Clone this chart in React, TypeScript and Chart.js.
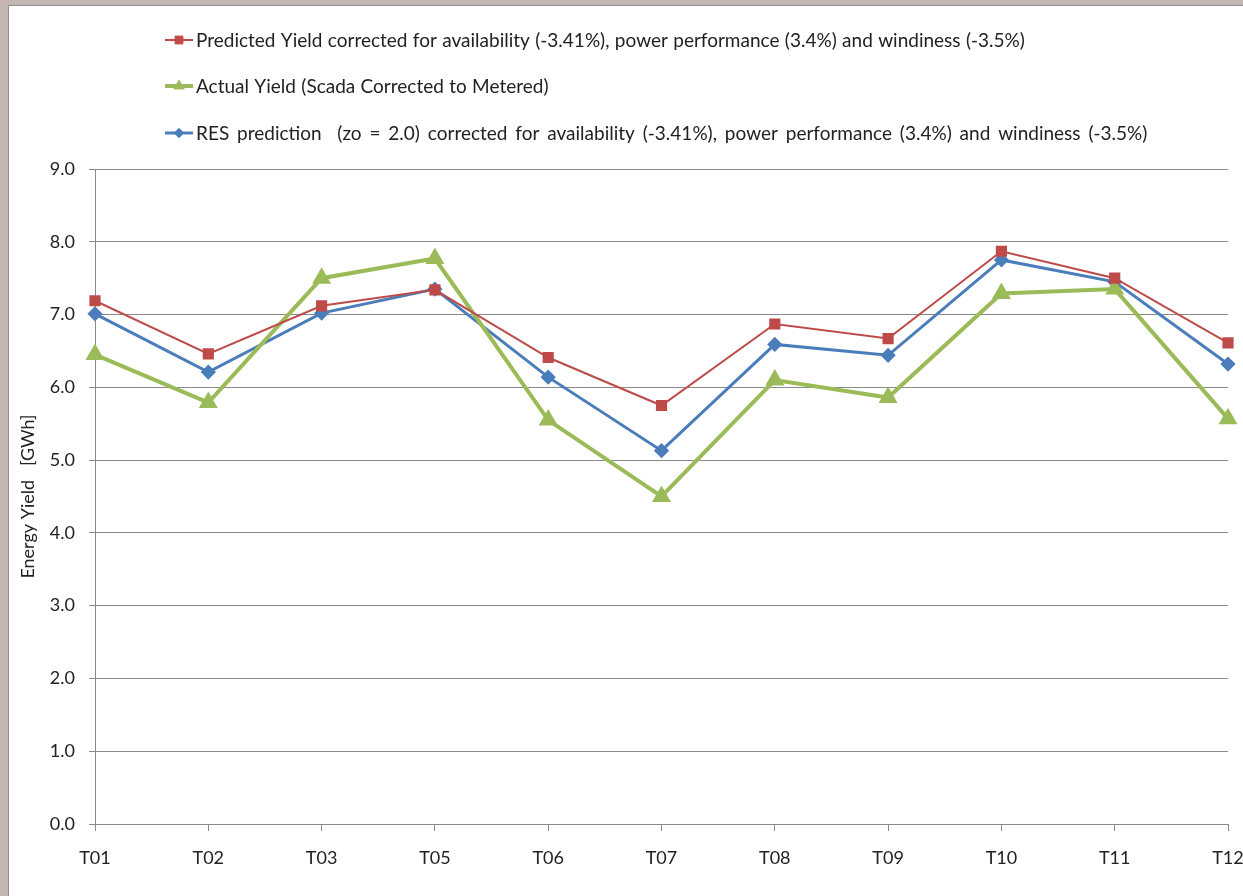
import React, { useEffect, useRef } from "react";
import { Chart, registerables } from "chart.js";
import { drawPoint } from "chart.js/helpers";

Chart.register(...registerables);

const categories = ["T01", "T02", "T03", "T05", "T06", "T07", "T08", "T09", "T10", "T11", "T12"];
const predictedYield = [7.19, 6.46, 7.12, 7.34, 6.41, 5.75, 6.87, 6.67, 7.87, 7.50, 6.61];
const actualYield = [6.45, 5.79, 7.50, 7.77, 5.55, 4.50, 6.10, 5.86, 7.29, 7.35, 5.57];
const resPrediction = [7.01, 6.21, 7.02, 7.35, 6.14, 5.13, 6.59, 6.44, 7.75, 7.45, 6.32];
const yTicks = [0, 1, 2, 3, 4, 5, 6, 7, 8, 9];

const labels = [
  "Predicted Yield corrected for availability (-3.41%), power performance (3.4%) and windiness (-3.5%)",
  "Actual Yield (Scada Corrected to Metered)",
  "RES prediction  (zo = 2.0) corrected for availability (-3.41%), power performance (3.4%) and windiness (-3.5%)",
];

const FONT = "Lato, 'Open Sans', sans-serif";

const legendPlugin = {
  id: "customLegend",
  afterDraw(chart: any) {
    const ctx = chart.ctx;
    const rows = [40, 86, 133];
    const spacing = ["0.5px", "0.5px", "3px"];
    ctx.save();
    chart.data.datasets.forEach((ds: any, i: number) => {
      const y = rows[i];
      ctx.strokeStyle = ds.borderColor;
      ctx.lineWidth = ds.borderWidth;
      ctx.beginPath();
      ctx.moveTo(165, y);
      ctx.lineTo(193, y);
      ctx.stroke();
      ctx.fillStyle = ds.pointBackgroundColor;
      ctx.strokeStyle = ds.pointBorderColor;
      ctx.lineWidth = 1;
      drawPoint(ctx, { pointStyle: ds.pointStyle, radius: ds.pointRadius * 0.85, rotation: 0, borderWidth: 1 }, 179, y);
      ctx.fillStyle = "#222";
      ctx.font = `19px ${FONT}`;
      (ctx as any).wordSpacing = spacing[i];
      ctx.textBaseline = "middle";
      ctx.textAlign = "left";
      ctx.fillText(ds.label, 196, y + 1);
    });
    ctx.restore();
  },
};

export default function App() {
  const ref = useRef<HTMLCanvasElement>(null);
  useEffect(() => {
    if (!ref.current) return;
    const chart = new Chart(ref.current, {
      type: "line",
      data: {
        labels: categories,
        datasets: [
          {
            label: labels[0],
            data: predictedYield,
            borderColor: "#BE4B48",
            backgroundColor: "#BE4B48",
            pointBackgroundColor: "#BE4B48",
            pointBorderColor: "#BE4B48",
            borderWidth: 2,
            pointStyle: "rect",
            pointRadius: 6.5,
            tension: 0,
          },
          {
            label: labels[1],
            data: actualYield,
            borderColor: "#9BBB59",
            backgroundColor: "#9BBB59",
            pointBackgroundColor: "#9BBB59",
            pointBorderColor: "#9BBB59",
            borderWidth: 4,
            pointStyle: "triangle",
            pointRadius: 7,
            tension: 0,
          },
          {
            label: labels[2],
            data: resPrediction,
            borderColor: "#4A7EBB",
            backgroundColor: "#4A7EBB",
            pointBackgroundColor: "#4A7EBB",
            pointBorderColor: "#4A7EBB",
            borderWidth: 3,
            pointStyle: "rectRot",
            pointRadius: 5.5,
            tension: 0,
          },
        ],
      },
      options: {
        responsive: false,
        animation: false,
        devicePixelRatio: 1,
        layout: { padding: { top: 169, right: 15, left: 0, bottom: 0 } },
        plugins: {
          legend: { display: false },
          tooltip: { enabled: false },
        },
        scales: {
          x: {
            offset: false,
            afterFit(scale: any) {
              scale.height = 72;
              scale.paddingLeft = 0;
              scale.paddingRight = 0;
            },
            grid: {
              display: true,
              drawOnChartArea: false,
              drawTicks: true,
              tickLength: 7,
              color: "#8a8a8a",
            },
            border: { display: true, color: "#8a8a8a", width: 1 },
            ticks: {
              color: "#222",
              font: { family: FONT, size: 18 },
              padding: 16,
              maxRotation: 0,
            },
          },
          y: {
            min: 0,
            max: 9,
            afterBuildTicks(scale: any) {
              scale.ticks = yTicks.map((v) => ({ value: v }));
            },
            afterFit(scale: any) {
              scale.width = 95;
              scale.paddingTop = 0;
              scale.paddingBottom = 0;
            },
            grid: {
              display: true,
              drawOnChartArea: true,
              drawTicks: true,
              tickLength: 6,
              color: "#8a8a8a",
            },
            border: { display: true, color: "#8a8a8a", width: 1 },
            ticks: {
              color: "#222",
              font: { family: FONT, size: 18 },
              padding: 14,
              callback: (v: any) => Number(v).toFixed(1),
            },
            title: {
              display: true,
              text: "Energy Yield   [GWh]",
              color: "#222",
              font: { family: FONT, size: 18 },
              padding: { top: 17, bottom: 0 },
            },
          },
        },
      },
      plugins: [legendPlugin],
    });
    return () => chart.destroy();
  }, []);

  return (
    <div style={{ position: "fixed", left: 0, top: 0, width: 1243, height: 896, background: "#c4b6b1", overflow: "hidden" }}>
      <div
        style={{
          position: "absolute",
          left: 8,
          top: 5,
          right: -10,
          bottom: -10,
          background: "#ffffff",
          borderLeft: "1px solid #8f8f8f",
          borderTop: "1px solid #8f8f8f",
        }}
      />
      <canvas ref={ref} width={1243} height={896} style={{ position: "absolute", left: 0, top: 0, width: 1243, height: 896 }} />
    </div>
  );
}
